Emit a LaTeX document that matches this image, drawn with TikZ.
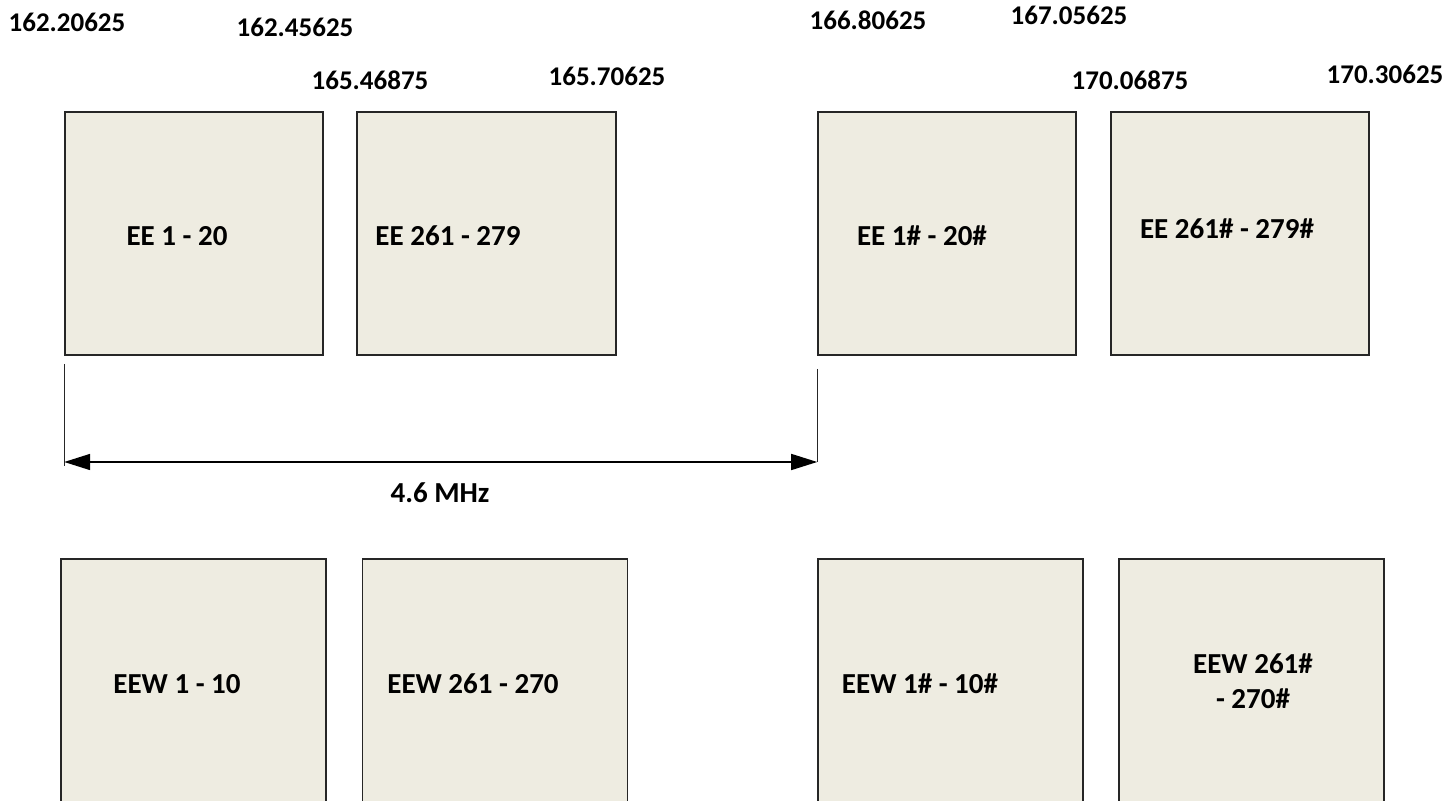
\documentclass[tikz,border=0pt]{standalone}
\usepackage{fontspec}
\setmainfont{Carlito}
\usetikzlibrary{arrows.meta,positioning}
\definecolor{chanFill}{HTML}{EEECE1}
\definecolor{chanLine}{HTML}{262626}
\tikzset{
  chan box/.style={draw=chanLine, fill=chanFill, line width=0.8pt,
    minimum width=129pt, minimum height=121.5pt, inner sep=0pt},
  wide box/.style={chan box, minimum width=132.5pt, minimum height=145.5pt},
  box text/.style={font=\fontsize{14.5}{17.5}\selectfont\bfseries,
    align=center, inner sep=0pt},
  freq label/.style={font=\fontsize{13.5}{16}\selectfont\bfseries,
    inner sep=0pt},
  dim line/.style={draw=chanLine, line width=0.7pt},
  dim arrow/.style={{Triangle[length=13pt,width=8pt]}-{Triangle[length=13pt,width=8pt]},
    draw=black, line width=0.8pt}
}
\begin{document}
\begin{tikzpicture}[x=0.5pt, y=-0.5pt]
  \useasboundingbox (0,0) rectangle (1452,801);
  \clip (0,0) rectangle (1452,801);

  % frequency marks
  \node[freq label] (f1) at (67,22) {162.20625};
  \node[freq label] (f2) at (295,27) {162.45625};
  \node[freq label] (f3) at (370,80) {165.46875};
  \node[freq label] (f4) at (607,76) {165.70625};
  \node[freq label] (f5) at (868,20) {166.80625};
  \node[freq label] (f6) at (1069,15) {167.05625};
  \node[freq label] (f7) at (1130,80) {170.06875};
  \node[freq label] (f8) at (1385,74) {170.30625};

  % EE channels
  \node[chan box] (ee1) at (194,233.5) {};
  \node[chan box, minimum width=129.5pt] (ee2) at (486.5,233.5) {};
  \node[chan box] (ee3) at (947,233.5) {};
  \node[chan box] (ee4) at (1240,233.5) {};
  \node[box text] (tee1) at (177,236) {EE 1 - 20};
  \node[box text] (tee2) at (448,236) {EE 261 - 279};
  \node[box text] (tee3) at (922,236) {EE 1\# - 20\#};
  \node[box text] (tee4) at (1227,229) {EE 261\# - 279\#};

  % EEW channels
  \node[wide box] (eew1) at (193.5,704.5) {};
  \node[wide box] (eew2) at (495,704.5) {};
  \node[wide box] (eew3) at (950.5,704.5) {};
  \node[wide box] (eew4) at (1251.5,704.5) {};
  \node[box text] (teew1) at (177,684) {EEW 1 - 10};
  \node[box text] (teew2) at (473,684) {EEW 261 - 270};
  \node[box text] (teew3) at (920,684) {EEW 1\# - 10\#};
  \node[box text] (teew4) at (1253,681) {EEW 261\#\\- 270\#};

  % spacing 4.6 MHz
  \coordinate (dl) at ([yshift=-4pt]ee1.south west);
  \coordinate (dr) at ([yshift=-6.5pt]ee3.south west);
  \coordinate (al) at (ee1.west |- 0,462);
  \coordinate (ar) at (ee3.west |- 0,462);
  \draw[dim line] (dl) -- ([yshift=-2pt]al);
  \draw[dim line] (dr) -- (ar);
  \draw[dim arrow] (al) -- (ar);
  \node[freq label, font=\fontsize{14.5}{17.5}\selectfont\bfseries]
    (gap) at (440,493) {4.6 MHz};
\end{tikzpicture}
\end{document}
